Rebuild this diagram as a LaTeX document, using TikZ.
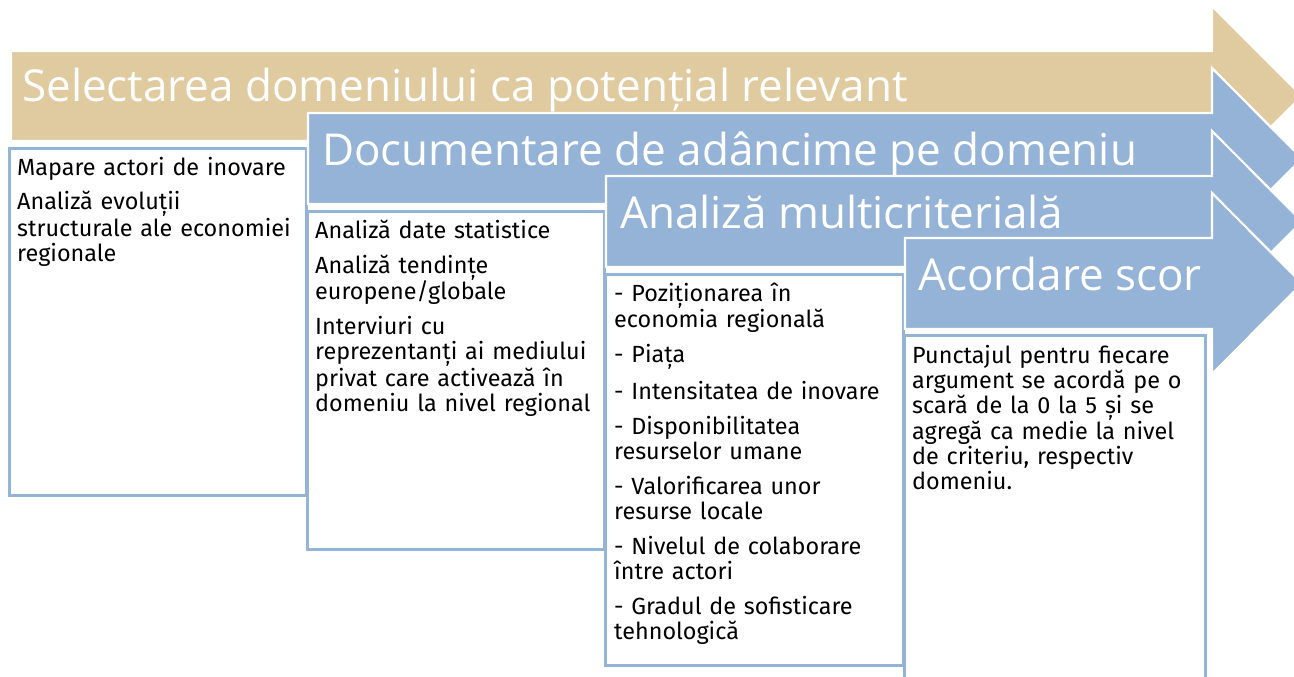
\documentclass[tikz,border=0pt]{standalone}
\usepackage{fontspec}
\setmainfont{Fira Sans}
\newfontfamily\headfont{Open Sans}
\definecolor{tanc}{HTML}{E0CAA0}
\definecolor{bluec}{HTML}{95B3D7}
\begin{document}
\begin{tikzpicture}[x=1pt,y=-1pt,
  arrowshape/.style={line width=2.2pt, draw=white, line join=miter},
  boxshape/.style={draw=bluec, line width=3pt, fill=white},
  heading/.style={anchor=base west, inner sep=0pt, text=white, font=\headfont\fontsize{44}{50}\selectfont},
  bodytext/.style={anchor=base west, inner sep=0pt, align=left, text width=292pt, font=\fontsize{23.4}{25}\selectfont}]
\useasboundingbox (0,0) rectangle (1294,677);
\clip (0,0) rectangle (1294,677);
% arrow 1
\filldraw[arrowshape, fill=tanc] (11,51) -- (1212,51) -- (1212,6) -- (1302,96) -- (1212,186) -- (1212,141) -- (11,141) -- cycle;
\node[heading] (h1) at (22,102) {Selectarea domeniului ca potențial relevant};
\draw[boxshape] (9.5,148) rectangle (306,495);
\node[bodytext] (t1) at (17,175) {Mapare actori de inovare\\[10pt]Analiză evoluții\\structurale ale economiei\\regionale};
% arrow 2
\filldraw[arrowshape, fill=bluec] (308,113) -- (1212,113) -- (1212,68) -- (1302,158.5) -- (1212,249) -- (1212,204) -- (308,204) -- cycle;
\node[heading] (h2) at (322,165) {Documentare de adâncime pe domeniu};
\draw[boxshape] (307,211) rectangle (604.5,549);
\node[bodytext] (t2) at (315,238) {Analiză date statistice\\[10pt]Analiză tendințe\\europene/globale\\[10pt]Interviuri cu\\reprezentanți ai mediului\\privat care activează în\\domeniu la nivel regional};
% arrow 3
\filldraw[arrowshape, fill=bluec] (606,176) -- (1212,176) -- (1212,131) -- (1302,221.5) -- (1212,312) -- (1212,267) -- (606,267) -- cycle;
\node[heading] (h3) at (620,228) {Analiză multicriterială};
\draw[boxshape] (605.5,274) rectangle (903.5,665);
\node[bodytext] (t3) at (614,301.5) {- Poziționarea în\\economia regională\\[10pt]- Piața\\[10pt]- Intensitatea de inovare\\[10pt]- Disponibilitatea\\resurselor umane\\[10pt]- Valorificarea unor\\resurse locale\\[10pt]- Nivelul de colaborare\\între actori\\[10pt]- Gradul de sofisticare\\tehnologică};
% arrow 4
\filldraw[arrowshape, fill=bluec] (905,238) -- (1212,238) -- (1212,193) -- (1302,283.5) -- (1212,374) -- (1212,329) -- (905,329) -- cycle;
\node[heading] (h4) at (918,290) {Acordare scor};
\draw[boxshape] (904.5,335) rectangle (1205,700);
\node[bodytext] (t4) at (912,363) {Punctajul pentru fiecare\\argument se acordă pe o\\scară de la 0 la 5 și se\\agregă ca medie la nivel\\de criteriu, respectiv\\domeniu.};
\end{tikzpicture}
\end{document}
